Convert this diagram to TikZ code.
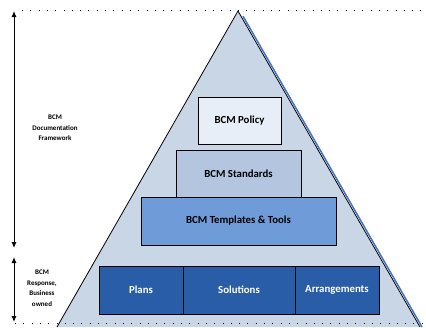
\documentclass[tikz,border=0pt]{standalone}
\usepackage{fontspec}
\setmainfont{Carlito}
\usetikzlibrary{arrows.meta,calc}
\definecolor{trifill}{HTML}{C9D6E6}
\definecolor{polfill}{HTML}{E7EEF8}
\definecolor{stdfill}{HTML}{B3C5DF}
\definecolor{tmpfill}{HTML}{6F9BD8}
\definecolor{botfill}{HTML}{2A5DA8}
\definecolor{shadow}{HTML}{4472C4}
\tikzset{
  box/.style={draw=black, line width=0.8pt, font=\bfseries\fontsize{10.8}{13}\selectfont},
  side/.style={font=\bfseries\fontsize{7}{10.5}\selectfont, align=center},
  dots/.style={line width=1pt, dash pattern=on 1pt off 7.3pt},
  spanarrow/.style={line width=1pt, {Latex[length=6pt,width=5pt]}-{Latex[length=6pt,width=5pt]}}
}
\begin{document}
\begin{tikzpicture}[x=1pt,y=-1pt]
\useasboundingbox (0,0) rectangle (426,327);
% triangle
\coordinate (apex) at (238,11);
\coordinate (bl) at (57,327);
\coordinate (br) at (420,327);
\fill[trifill] (apex) -- (br) -- (bl) -- cycle;
\draw[shadow, line width=1.5pt] ($(apex)+(5,5.2)$) -- ($(br)+(2,0)$);
\draw[black, line width=0.8pt] (bl) -- (apex) -- (br);
% dotted lines
\coordinate (t1) at (22,10); \coordinate (t2) at (426,10);
\coordinate (b1) at (15,323); \coordinate (b2) at (426,323);
\draw[dots] (t1) -- (t2);
\draw[dots] (b1) -- (b2);
% boxes
\node[box, fill=polfill, minimum width=83pt, minimum height=47pt] (pol) at (239.5,120.5) {BCM Policy};
\node[box, fill=stdfill, minimum width=125pt, minimum height=47pt] (std) at (238.5,173.5) {BCM Standards};
\node[box, fill=tmpfill, minimum width=195pt, minimum height=48pt] (tmp) at (238.5,221) {BCM Templates \& Tools};
\node[box, fill=botfill, text=white, minimum width=84pt, minimum height=48pt] (plans) at (141,290) {Plans};
\node[box, fill=botfill, text=white, minimum width=112pt, minimum height=48pt] (sol) at (239,290) {Solutions};
\node[box, fill=botfill, text=white, minimum width=84pt, minimum height=48pt] (arr) at (337,290) {Arrangements};
% arrows
\coordinate (a1) at (14,11); \coordinate (a2) at (14,248);
\coordinate (a3) at (14,257); \coordinate (a4) at (14,322);
\draw[spanarrow] (a2) -- (a1);
\draw[spanarrow] (a3) -- (a4);
\node[side] (docf) at (55,128) {BCM\\Documentation\\Framework};
\node[side] (resp) at (42,288) {BCM\\Response,\\Business\\owned};
\end{tikzpicture}
\end{document}
